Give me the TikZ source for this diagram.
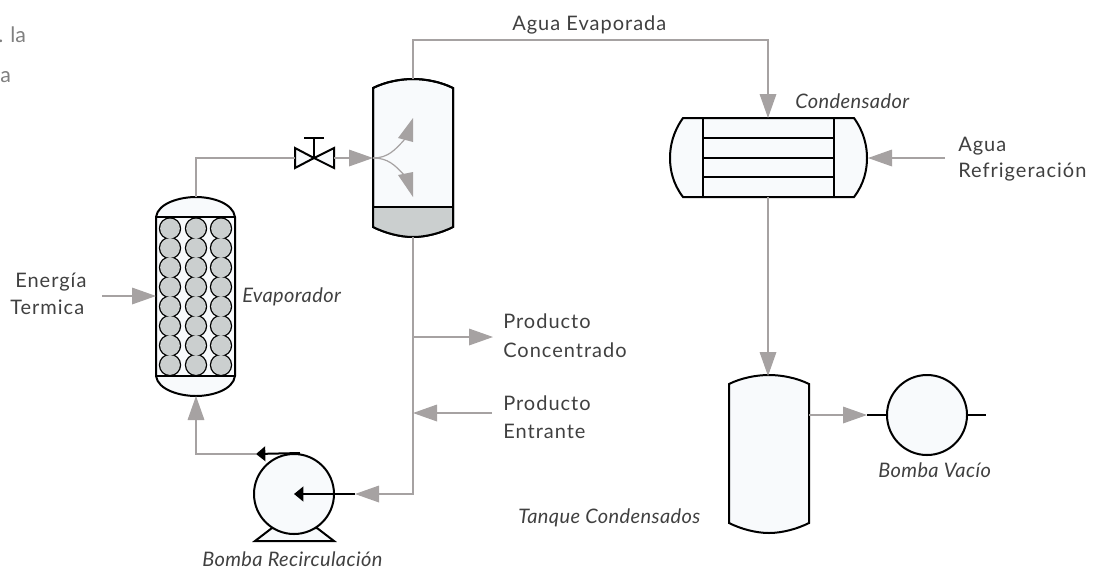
\documentclass[tikz,border=0pt]{standalone}
\usepackage{fontspec}
\setmainfont{Lato}
\usetikzlibrary{arrows.meta}
\definecolor{flow}{HTML}{A6A2A2}
\definecolor{vesselfill}{HTML}{F8FAFC}
\definecolor{liquid}{HTML}{CBCFCF}
\definecolor{txt}{HTML}{404040}
\newfontfamily\labfont[LetterSpace=5]{Lato}
\newfontfamily\italfont[LetterSpace=2,ItalicFont={Lato Italic}]{Lato}
\tikzset{
  x=0.75pt,y=-0.75pt,
  pipe/.style={draw=flow,line width=0.9pt},
  flowarrow/.style={pipe,-{Triangle[length=18pt,width=12.5pt,fill=flow]}},
  ink/.style={draw=black,line width=1.5pt},
  inkarrow/.style={ink,-{Triangle[length=7pt,width=11pt,fill=black]}},
  vessel/.style={ink,fill=vesselfill},
  machine/.style={circle,ink,fill=vesselfill,inner sep=0pt,minimum size=60pt},
  lab/.style={anchor=base west,inner sep=0pt,text=txt,font=\fontsize{15pt}{17pt}\labfont},
  ital/.style={lab,font=\fontsize{15pt}{17pt}\italfont\itshape},
  stray/.style={lab,text=gray,font=\fontsize{16pt}{18pt}\selectfont},
}
\begin{document}
\begin{tikzpicture}
\useasboundingbox (0,0) rectangle (1095,569);
% anchor points
\coordinate (evapTop) at (196,197);
\coordinate (evapBot) at (196,396);
\coordinate (evapWest) at (156,296);
\coordinate (valveIn) at (295,158);
\coordinate (valveOut) at (334,158);
\coordinate (valveC) at (314,158);
\coordinate (sepIn) at (373,158);
\coordinate (sepTop) at (413,79);
\coordinate (sepBot) at (413,237);
\coordinate (condTop) at (768,118);
\coordinate (condBot) at (768,197);
\coordinate (condEast) at (868,158);
\coordinate (tankTop) at (768,376);
\coordinate (tankEast) at (809,415);
\coordinate (teeOut) at (413,337);
\coordinate (teeIn) at (413,413);
\coordinate (pumpIn) at (355,494);
\coordinate (pumpOut) at (256,454);
\coordinate (vacIn) at (867,415);
% free ends
\coordinate (enerStart) at (102,296);
\coordinate (aguaStart) at (945,158);
\coordinate (prodOutEnd) at (493,337);
\coordinate (prodInStart) at (492,413);
\coordinate (vacEnd) at (986,415);
% evaporator
\draw[vessel] (156,217) .. controls (158,203) and (180,197) .. (196,197) .. controls (212,197) and (233,203) .. (235,217) -- (235,376) .. controls (233,390) and (212,396) .. (196,396) .. controls (180,396) and (158,390) .. (156,376) -- cycle;
\draw[ink] (156,217) -- (235,217) (156,376) -- (235,376);
\foreach \cx in {170,196,221}{
  \foreach \k in {0,...,7}{\fill[black] (\cx,{228.5+19.5*\k}) circle[radius=8.4pt];}
  \foreach \k in {0,...,7}{\fill[liquid] (\cx,{228.5+19.5*\k}) circle[radius=7.4pt];}
}
% separator
\draw[vessel] (373,88) .. controls (385,82) and (400,79) .. (413,79) .. controls (426,79) and (441,82) .. (453,88) -- (453,227) .. controls (441,233) and (426,237) .. (413,237) .. controls (400,237) and (385,233) .. (373,227) -- cycle;
\fill[liquid] (373,207) -- (453,207) -- (453,227) .. controls (441,233) and (426,237) .. (413,237) .. controls (400,237) and (385,233) .. (373,227) -- cycle;
\draw[ink] (373,88) .. controls (385,82) and (400,79) .. (413,79) .. controls (426,79) and (441,82) .. (453,88) -- (453,227) .. controls (441,233) and (426,237) .. (413,237) .. controls (400,237) and (385,233) .. (373,227) -- cycle;
\draw[ink] (373,207) -- (453,207);
\draw[pipe] (sepIn) .. controls (388,158) and (395,150) .. (405,139);
\draw[pipe] (sepIn) .. controls (388,158) and (395,165) .. (405,176);
\fill[flow] (413,118) -- (413,142) -- (398,138) -- cycle;
\fill[flow] (413,197) -- (413,172) -- (398,175) -- cycle;
% condenser
\draw[vessel] (683,118) -- (854,118) .. controls (864,132) and (867,146) .. (867,158) .. controls (867,170) and (864,184) .. (854,197) -- (683,197) .. controls (673,184) and (670,170) .. (670,158) .. controls (670,146) and (673,132) .. (683,118) -- cycle;
\draw[ink] (703,118) -- (703,197) (834,118) -- (834,197);
\draw[ink] (703,138) -- (834,138) (703,158) -- (834,158) (703,177) -- (834,177);
% tank
\draw[vessel] (729,384) .. controls (741,378) and (756,375) .. (769,375) .. controls (782,375) and (797,378) .. (809,384) -- (809,523) .. controls (797,529) and (782,533) .. (769,533) .. controls (756,533) and (741,529) .. (729,523) -- cycle;
% pumps
\draw[vessel] (255,541) -- (272,528) -- (317,528) -- (334,541) -- cycle;
\node[machine] (pump) at (294,494) {};
\node[machine] (vac) at (927,415) {};
% valve
\draw[ink,fill=vesselfill] (valveC) -- (295,148) -- (295,168) -- cycle;
\draw[ink,fill=vesselfill] (valveC) -- (334,148) -- (334,168) -- cycle;
\draw[ink,line width=1.1pt] (valveC) -- (314,138) (304,138) -- (324,138);
% piping
\draw[pipe] (evapTop) |- (valveIn);
\draw[flowarrow] (valveOut) -- (sepIn);
\draw[flowarrow] (sepTop) |- (590,40) -| (condTop);
\draw[flowarrow] (condBot) -- (tankTop);
\draw[flowarrow] (aguaStart) -- (condEast);
\draw[flowarrow] (enerStart) -- (evapWest);
\draw[flowarrow] (teeOut) -- (prodOutEnd);
\draw[flowarrow] (prodInStart) -- (teeIn);
\draw[flowarrow] (sepBot) |- (pumpIn);
\draw[flowarrow] (pumpOut) -| (evapBot);
\draw[flowarrow] (tankEast) -- (vacIn);
\draw[ink] (vacIn) -- (vac.west);
\draw[ink] (vac.east) -- (vacEnd);
\draw[inkarrow] (pumpIn) -- (pump.center);
\draw[inkarrow] (pump.north) ++(6,0) -- (pumpOut);
% labels
\node[stray] (t0) at (-2,42) {.};
\node[stray] (t1) at (10,42) {la};
\node[stray] (t2) at (0,82) {a};
\node[lab] (l1) at (512,30) {Agua Evaporada};
\node[lab] (l2) at (958,151) {Agua};
\node[lab] (l3) at (958,177) {Refrigeración};
\node[lab] (l4) at (15,287) {Energía};
\node[lab] (l5) at (10,314) {Termica};
\node[lab] (l6) at (503,328) {Producto};
\node[lab] (l7) at (503,357) {Concentrado};
\node[lab] (l8) at (503,410) {Producto};
\node[lab] (l9) at (503,438) {Entrante};
\node[ital] (e1) at (795,108) {Condensador};
\node[ital] (e2) at (242,302) {Evaporador};
\node[ital] (e3) at (202,566) {Bomba Recirculación};
\node[ital] (e4) at (518,523) {Tanque Condensados};
\node[ital] (e5) at (878,477) {Bomba Vacío};
\end{tikzpicture}
\end{document}
